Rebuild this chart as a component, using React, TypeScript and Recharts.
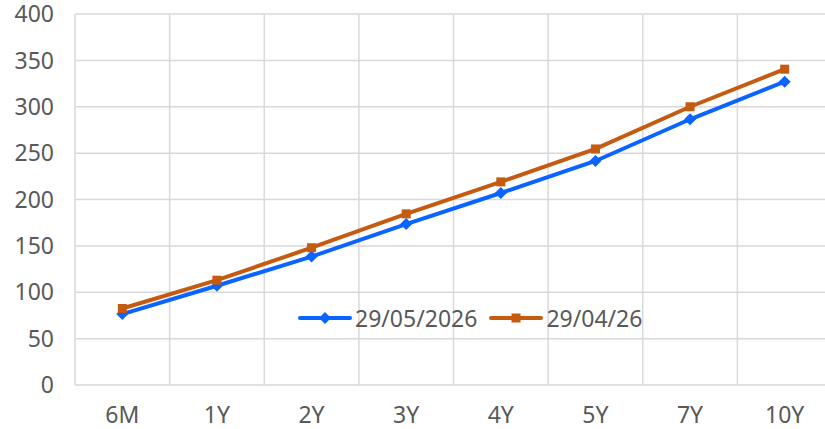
import { CartesianGrid, Legend, Line, LineChart, XAxis, YAxis } from "recharts";

const tenors = ["6M", "1Y", "2Y", "3Y", "4Y", "5Y", "7Y", "10Y"];
const may2026 = [76.5, 107, 138.5, 173.5, 207, 241.5, 286.5, 327];
const apr2026 = [82.5, 113, 148, 184.5, 219, 254.5, 300, 340.5];
const yTicks = [0, 50, 100, 150, 200, 250, 300, 350, 400];

const data = tenors.map((t, i) => ({
  name: t,
  may: may2026[i],
  apr: apr2026[i],
}));

const BLUE = "#0A64FF";
const ORANGE = "#C55A11";
const FONT = "'Noto Sans', sans-serif";
const FS = 23;

const Diamond = (props: any) => {
  const { cx, cy } = props;
  if (cx == null || cy == null) return null;
  const r = 6;
  return (
    <path
      d={`M${cx},${cy - r}L${cx + r},${cy}L${cx},${cy + r}L${cx - r},${cy}Z`}
      fill={BLUE}
    />
  );
};

const Square = (props: any) => {
  const { cx, cy } = props;
  if (cx == null || cy == null) return null;
  const s = 4.5;
  return <rect x={cx - s} y={cy - s} width={s * 2} height={s * 2} fill={ORANGE} />;
};

const LegendBox = () => (
  <div
    style={{
      display: "flex",
      alignItems: "center",
      fontFamily: FONT,
      fontSize: FS,
      color: "#595959",
      whiteSpace: "nowrap",
    }}
  >
    <svg width={54} height={14} style={{ marginRight: 3 }}>
      <line x1={2} y1={7} x2={52} y2={7} stroke={BLUE} strokeWidth={4} strokeLinecap="round" />
      <path d="M27,1L33,7L27,13L21,7Z" fill={BLUE} />
    </svg>
    <span>29/05/2026</span>
    <svg width={54} height={14} style={{ marginLeft: 12, marginRight: 3 }}>
      <line x1={2} y1={7} x2={52} y2={7} stroke={ORANGE} strokeWidth={4} strokeLinecap="round" />
      <rect x={22.5} y={2.5} width={9} height={9} fill={ORANGE} />
    </svg>
    <span>29/04/26</span>
  </div>
);

const App = () => {
  return (
    <div
      style={{
        position: "absolute",
        left: 0,
        top: 0,
        width: 825,
        height: 429,
        overflow: "hidden",
        background: "#fff",
      }}
    >
      <LineChart
        width={840}
        height={429}
        data={data}
        margin={{ top: 14, right: 8, left: 0, bottom: 0 }}
      >
        <CartesianGrid
          stroke="#D9D9D9"
          strokeWidth={1.5}
          verticalCoordinatesGenerator={({ offset }: any) =>
            tenors.map((_, i) => offset.left + (i * offset.width) / tenors.length)
          }
        />
        <XAxis
          dataKey="name"
          scale="band"
          axisLine={false}
          tickLine={false}
          height={44}
          tickMargin={16}
          tick={{ fill: "#595959", fontSize: FS, fontFamily: FONT }}
        />
        <YAxis
          domain={[0, 400]}
          ticks={yTicks}
          axisLine={false}
          tickLine={false}
          width={75}
          tickMargin={15}
          tick={{ fill: "#595959", fontSize: FS, fontFamily: FONT }}
        />
        <Legend
          content={<LegendBox />}
          verticalAlign="middle"
          wrapperStyle={{ position: "absolute", left: 298, top: 302, width: "auto" }}
        />
        <Line
          type="linear"
          dataKey="may"
          stroke={BLUE}
          strokeWidth={4}
          dot={<Diamond />}
          activeDot={false}
          isAnimationActive={false}
        />
        <Line
          type="linear"
          dataKey="apr"
          stroke={ORANGE}
          strokeWidth={4}
          dot={<Square />}
          activeDot={false}
          isAnimationActive={false}
        />
      </LineChart>
    </div>
  );
};

export default App;
